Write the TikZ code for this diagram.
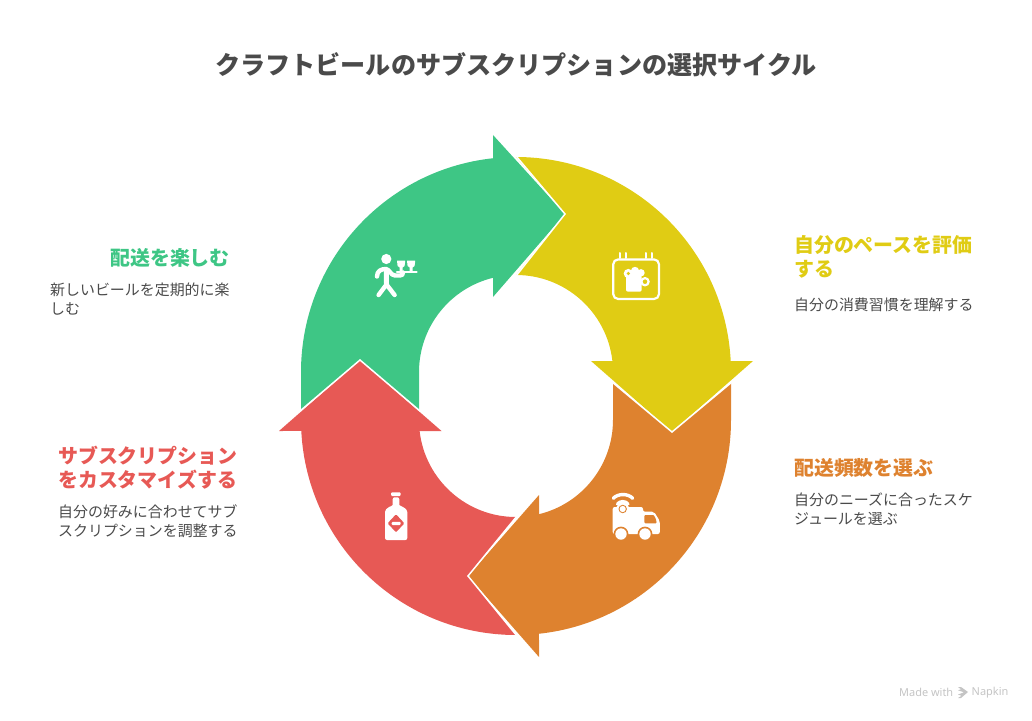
\documentclass[tikz,border=0pt]{standalone}
\usepackage{fontspec}
\setmainfont{Noto Sans CJK JP}
\newfontfamily\latinsans{Noto Sans}
\definecolor{cgreen}{HTML}{3EC685}
\definecolor{cyellow}{HTML}{E0CC14}
\definecolor{corange}{HTML}{DE822F}
\definecolor{cred}{HTML}{E75955}
\definecolor{ctext}{HTML}{4A4A4A}
\definecolor{cmark}{HTML}{C4C4C4}
\newcommand\tightlines{\lineskiplimit=-100bp\relax}
\tikzset{
  notch/.style={draw=white,line width=1.5bp,line join=miter},
  heading/.style={inner sep=0pt,font=\fontsize{20}{24}\selectfont\bfseries\tightlines},
  bodytext/.style={inner sep=0pt,text=ctext,font=\fontsize{15}{19}\selectfont\tightlines},
  iconline/.style={draw=white,line cap=round,line join=round},
  markstyle/.style={inner sep=0pt,text=cmark,anchor=west,font=\latinsans\fontsize{11}{13}\selectfont}
}
\begin{document}
\begin{tikzpicture}[x=1bp,y=-1bp]
\useasboundingbox (0,0) rectangle (1032,721);
% yellow
\fill[cyellow] (516,157) arc[start angle=90,end angle=2.93,radius=215bp]
  -- (753,361) -- (672,432) -- (591,361) -- (612.4,361)
  arc[start angle=6.51,end angle=90,radius=97bp]
  -- (565,214) -- cycle;
% orange
\fill[corange] (731,383) -- (731,420) arc[start angle=0,end angle=-83.86,radius=215bp]
  -- (539,657) -- (468,576) -- (539,495) -- (539,514.2)
  arc[start angle=-76.28,end angle=0,radius=97bp]
  -- (613,383) -- (672,432) -- cycle;
% green
\fill[cgreen] (301,410) -- (301,372) arc[start angle=180,end angle=96.14,radius=215bp]
  -- (493,135) -- (565,214) -- (493,297) -- (493,277.8)
  arc[start angle=103.72,end angle=180,radius=97bp]
  -- (419,410) -- (360,360) -- cycle;
% red
\fill[cred] (360,360) -- (441.5,431) -- (419.6,431)
  arc[start angle=-173.49,end angle=-90,radius=97bp]
  -- (468,576) -- (516,635)
  arc[start angle=-90,end angle=-177.07,radius=215bp]
  -- (279,431) -- cycle;
% white gaps between the arrows
\draw[notch] (516,156) -- (565,214) -- (516,276);
\draw[notch] (612,382) -- (672,432) -- (732,382);
\draw[notch] (300,411) -- (360,360) -- (420,411);
\draw[notch] (517,516) -- (468,576) -- (517,636);

% waiter icon
\fill[white] (386.3,259) circle (5.1);
\draw[iconline,line width=4.4bp] (377,276.5) .. controls (377,271) and (381,269) .. (386,269)
  .. controls (389,269) and (391,275.5) .. (395,275.5) -- (400,275.5) .. controls (402,275.5) and (403,274.5) .. (403,272.5);
\draw[iconline,line width=5bp] (386.3,270) -- (386.5,284);
\draw[iconline,line width=4.4bp] (378.6,295) -- (386.5,284.5) -- (394.6,295);
\draw[iconline,line width=2.6bp] (397,272) -- (416.5,272);
\fill[white] (397,260.7) -- (405.2,260.7) -- (404.6,266) -- (402.6,267.5) -- (402.6,272) -- (399.6,272) -- (399.6,267.5) -- (397.6,266) -- cycle;
\fill[white] (407,260.7) -- (415.2,260.7) -- (414.6,266) -- (412.6,267.5) -- (412.6,272) -- (409.6,272) -- (409.6,267.5) -- (407.6,266) -- cycle;

% calendar icon
\draw[draw=white,line width=2.2bp,rounded corners=5bp] (613.2,259.4) rectangle (659,299);
\draw[iconline,line width=2bp] (619.5,253) -- (619.5,258) (626,253) -- (626,258) (645.5,253) -- (645.5,258) (652,253) -- (652,258);
\fill[white,rounded corners=2bp] (626,275) rectangle (641.7,291.7);
\draw[draw=white,line width=2.2bp] (645,281.7) circle (3.6);
\fill[white] (628.3,273.5) circle (4.6) (635,270.9) circle (4.1) (641,272.8) circle (3.7) (636,275) circle (4);
\fill[cyellow] (628.3,273.5) circle (1.8);

% truck icon
\fill[white,rounded corners=2bp] (612.7,507) -- (612.7,534) -- (659.8,534) -- (659.8,521) -- (654,511.7) -- (643,511.7) -- (643,507) -- cycle;
\fill[corange,rounded corners=1bp] (644.3,515) -- (652,515) .. controls (654,515) and (656,518) .. (656.7,523.3) -- (644.3,523.3) -- cycle;
\fill[corange] (621,534) circle (7.4) (645,534) circle (7.4);
\fill[white] (621,534) circle (5.7) (645,534) circle (5.7);
\fill[white] (622.7,509) circle (6.4);
\fill[corange] (622.7,509) circle (4.2);
\fill[white] (622.7,509) circle (3.1);
\draw[iconline,line width=3bp] (617.3,504) .. controls (619.5,500.6) and (626,500.6) .. (628.2,504);
\draw[iconline,line width=3.4bp] (613.3,498.3) .. controls (618,493.3) and (628,493.3) .. (632.7,498.3);

% bottle icon
\fill[white,rounded corners=1bp] (391,492.3) rectangle (400.7,496);
\fill[white,rounded corners=2bp] (392.7,497.3) -- (399.3,497.3) -- (399.3,503) .. controls (399.3,506) and (407.3,507.5) .. (407.3,514) -- (407.3,540) -- (385,540) -- (385,514) .. controls (385,507.5) and (392.7,506) .. (392.7,503) -- cycle;
\fill[cred,rounded corners=1bp] (396,514.3) -- (404.4,523.3) -- (396,532.3) -- (387.6,523.3) -- cycle;
\fill[white,rounded corners=1bp] (391.7,521.8) rectangle (400.7,525);

% title
\node[inner sep=0pt,text=ctext,font=\fontsize{25.2}{30}\selectfont\bfseries] (title) at (516,65) {クラフトビールのサブスクリプションの選択サイクル};

% labels
\node[heading,text=cgreen,anchor=east] (h1) at (230,257.5) {配送を楽しむ};
\node[bodytext,anchor=west,align=left] (b1) at (50,299.5) {新しいビールを定期的に楽\\しむ};
\node[heading,text=cyellow,anchor=west,align=left] (h2) at (794,257) {自分のペースを評価\\する};
\node[bodytext,anchor=west] (b2) at (794,305) {自分の消費習慣を理解する};
\node[heading,text=corange,anchor=west] (h3) at (794,467.5) {配送頻数を選ぶ};
\node[bodytext,anchor=west,align=left] (b3) at (794,509.5) {自分のニーズに合ったスケ\\ジュールを選ぶ};
\node[heading,text=cred,anchor=west,align=left] (h4) at (58,467.7) {サブスクリプション\\をカスタマイズする};
\node[bodytext,anchor=west,align=left] (b4) at (58,521.5) {自分の好みに合わせてサブ\\スクリプションを調整する};

% watermark
\node[markstyle] (mw) at (899,692.5) {Made with};
\node[markstyle] (np) at (971.5,692.5) {Napkin};
\fill[cmark] (958,687) -- (961,687) -- (968,692) -- (961,698) -- (958,698) -- (961.5,695.8) -- (958,694.5) -- (964,692.3) -- (958,690.3) -- (961,689.3) -- cycle;
\end{tikzpicture}
\end{document}
